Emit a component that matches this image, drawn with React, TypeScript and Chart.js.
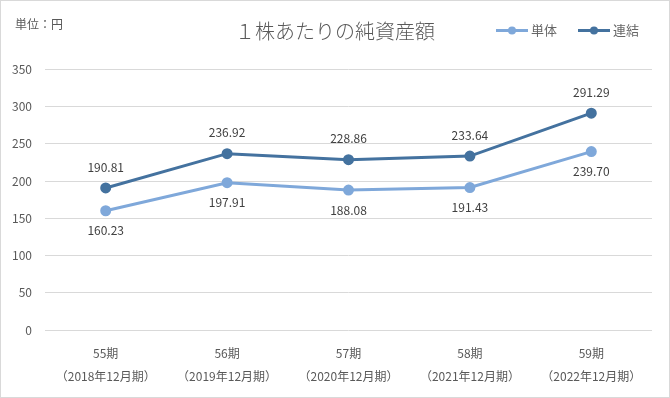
import React, { useEffect, useRef } from "react";
import { Chart, registerables } from "chart.js";

Chart.register(...registerables);

const periods = ["55期", "56期", "57期", "58期", "59期"];
const fiscalYears = ["（2018年12月期）", "（2019年12月期）", "（2020年12月期）", "（2021年12月期）", "（2022年12月期）"];
const standalone = [160.23, 197.91, 188.08, 191.43, 239.7];
const consolidated = [190.81, 236.92, 228.86, 233.64, 291.29];
const seriesNames = ["単体", "連結"];
const yTicks = [0, 50, 100, 150, 200, 250, 300, 350];
const titleText = "１株あたりの純資産額";
const unitText = "単位：円";

const LIGHT = "#7FA8DA";
const DARK = "#44729F";
const FONT = "'Noto Sans CJK JP', 'Noto Sans', sans-serif";

export default function App() {
  const ref = useRef<HTMLCanvasElement | null>(null);

  useEffect(() => {
    document.body.style.margin = "0";
    const canvas = ref.current!;
    const overlay = {
      id: "overlay",
      afterDatasetsDraw(chart: any) {
        const ctx = chart.ctx as CanvasRenderingContext2D;
        ctx.save();
        // data labels
        ctx.font = `12px ${FONT}`;
        ctx.fillStyle = "#404040";
        ctx.textAlign = "center";
        ctx.textBaseline = "middle";
        chart.data.datasets.forEach((ds: any, di: number) => {
          const meta = chart.getDatasetMeta(di);
          meta.data.forEach((pt: any, i: number) => {
            const v = ds.data[i] as number;
            const dy = di === 1 ? -21 : 20;
            ctx.fillText(v.toFixed(2), pt.x, pt.y + dy);
          });
        });
        // title
        ctx.font = `300 20px ${FONT}`;
        ctx.fillStyle = "#595959";
        ctx.fillText(titleText, 334, 30);
        // unit
        ctx.font = `12px ${FONT}`;
        ctx.textAlign = "left";
        ctx.fillText(unitText, 14, 23);
        // legend
        const items = [
          { x: 495, color: LIGHT, name: seriesNames[0] },
          { x: 577, color: DARK, name: seriesNames[1] },
        ];
        ctx.font = `13px ${FONT}`;
        items.forEach((it) => {
          ctx.strokeStyle = it.color;
          ctx.lineWidth = 3;
          ctx.beginPath();
          ctx.moveTo(it.x, 29.5);
          ctx.lineTo(it.x + 32, 29.5);
          ctx.stroke();
          ctx.fillStyle = it.color;
          ctx.beginPath();
          ctx.arc(it.x + 16, 29.5, 4, 0, Math.PI * 2);
          ctx.fill();
          ctx.fillStyle = "#666666";
          ctx.textAlign = "left";
          ctx.fillText(it.name, it.x + 35, 29.5);
        });
        ctx.restore();
      },
    };

    const chart = new Chart(canvas, {
      type: "line",
      data: {
        labels: periods.map((p, i) => [p, fiscalYears[i]]),
        datasets: [
          {
            label: seriesNames[0],
            data: standalone,
            borderColor: LIGHT,
            backgroundColor: LIGHT,
            borderWidth: 3,
            pointRadius: 4,
            pointBackgroundColor: LIGHT,
            pointBorderColor: LIGHT,
          },
          {
            label: seriesNames[1],
            data: consolidated,
            borderColor: DARK,
            backgroundColor: DARK,
            borderWidth: 3,
            pointRadius: 4,
            pointBackgroundColor: DARK,
            pointBorderColor: DARK,
          },
        ],
      },
      options: {
        animation: false,
        responsive: false,
        layout: { padding: { left: 8, right: 17, top: 68.5, bottom: 0 } },
        plugins: { legend: { display: false }, tooltip: { enabled: false }, title: { display: false } },
        scales: {
          x: {
            offset: true,
            grid: { display: false, drawTicks: false },
            border: { display: false },
            ticks: {
              color: "#595959",
              font: { family: FONT, size: 12, lineHeight: 1.9 },
              padding: 12,
              maxRotation: 0,
              autoSkip: false,
            },
            afterFit: (s: any) => {
              s.height = 67;
            },
          },
          y: {
            min: 0,
            max: 350,
            afterBuildTicks: (s: any) => {
              s.ticks = yTicks.map((v) => ({ value: v }));
            },
            grid: { color: "#D9D9D9", lineWidth: 1, drawTicks: false },
            border: { display: false },
            ticks: {
              color: "#595959",
              font: { family: FONT, size: 12 },
              padding: 13,
            },
            afterFit: (s: any) => {
              s.width = 36;
            },
          },
        },
      },
      plugins: [overlay],
    });
    return () => chart.destroy();
  }, []);

  return (
    <div
      style={{
        position: "absolute",
        left: 0,
        top: 0,
        width: 670,
        height: 398,
        border: "1px solid #D9D9D9",
        boxSizing: "border-box",
        background: "#fff",
        overflow: "hidden",
      }}
    >
      <canvas ref={ref} width={668} height={396} style={{ display: "block" }} />
    </div>
  );
}
